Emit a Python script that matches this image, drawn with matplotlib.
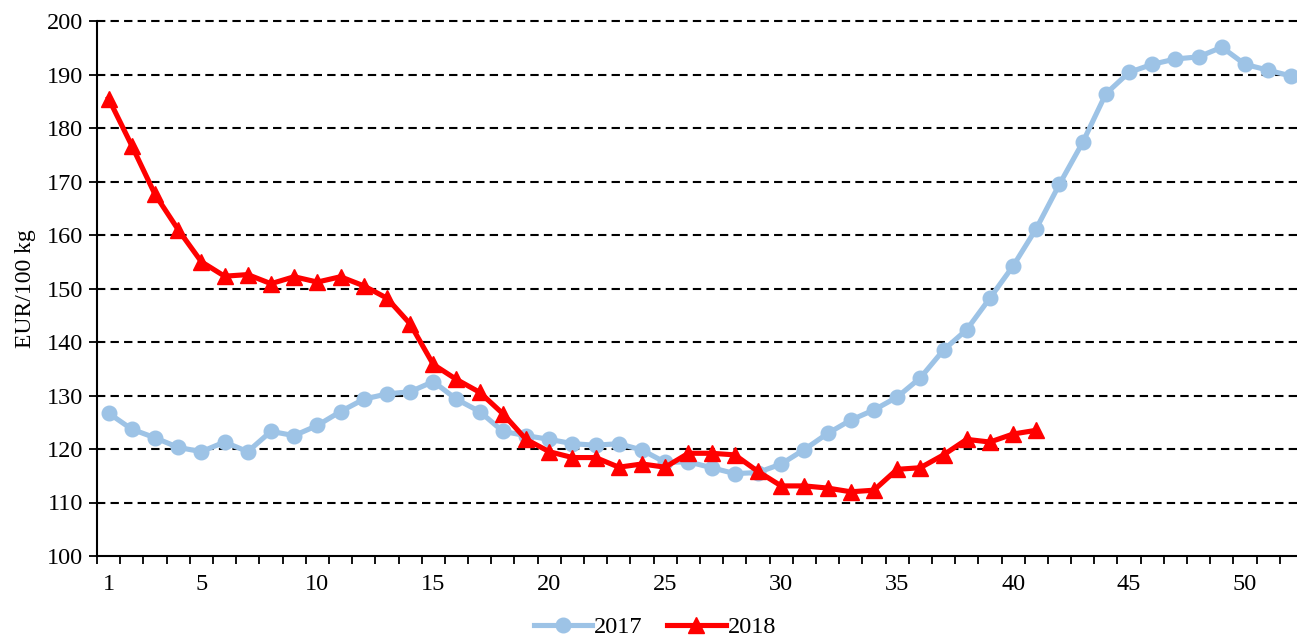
import matplotlib
matplotlib.use("Agg")
import matplotlib.pyplot as plt

plt.rcParams['font.family'] = ['Liberation Serif', 'DejaVu Serif']

weeks_2017 = list(range(1, 53))
prices_2017 = [126.7, 123.7, 122.1, 120.3, 119.5, 121.3, 119.5, 123.3, 122.5, 124.4,
               127.0, 129.3, 130.3, 130.7, 132.6, 129.3, 127.0, 123.3, 122.5, 121.8,
               121.0, 120.7, 121.0, 119.8, 117.5, 117.6, 116.5, 115.4, 115.6, 117.2,
               119.9, 122.9, 125.4, 127.3, 129.7, 133.3, 138.5, 142.3, 148.2, 154.2,
               161.2, 169.5, 177.3, 186.4, 190.4, 191.9, 192.9, 193.3, 195.1, 191.9,
               190.8, 189.7]

weeks_2018 = list(range(1, 42))
prices_2018 = [185.5, 176.7, 167.6, 161.0, 155.0, 152.3, 152.6, 150.9, 152.2, 151.2,
               152.2, 150.5, 148.2, 143.4, 135.8, 133.0, 130.6, 126.6, 121.8, 119.5,
               118.4, 118.4, 116.6, 117.2, 116.6, 119.2, 119.2, 118.9, 115.8, 113.1,
               113.1, 112.7, 112.0, 112.3, 116.2, 116.5, 118.9, 121.8, 121.3, 122.8,
               123.5]

x_labels = [1, 5, 10, 15, 20, 25, 30, 35, 40, 45, 50]
y_ticks = list(range(100, 201, 10))

fig = plt.figure(figsize=(12.97, 6.37), dpi=100)
W, H = 1297, 637
ax = fig.add_axes([97 / W, 1 - 556 / H, 1206 / W, (556 - 21) / H])

ax.plot(weeks_2017, prices_2017, color='#9DC3E6', linewidth=3.7, marker='o',
        markersize=10.5, label='2017', zorder=3)
ax.plot(weeks_2018, prices_2018, color='#FF0000', linewidth=3.7, marker='^',
        markersize=11, label='2018', zorder=4)

ax.set_xlim(0.5, 52.5)
ax.set_ylim(100, 200)
ax.set_yticks(y_ticks)
ax.set_xticks([w + 0.5 for w in range(0, 53)])
ax.set_xticklabels([])
ax.set_xticks(x_labels, minor=True)
ax.set_xticklabels([str(v) for v in x_labels], minor=True)
ax.tick_params(axis='x', which='minor', length=0, pad=13, labelsize=17.5)
ax.tick_params(axis='x', which='major', direction='out', length=6, width=1.3)
ax.tick_params(axis='y', direction='out', length=6, width=1.3, labelsize=17.5, pad=4)

# dashed horizontal grid
for v in y_ticks[1:]:
    ax.axhline(v, color='black', linewidth=1.5, linestyle=(0, (4, 2.5)),
               zorder=1, clip_on=False)

for s in ['top', 'right']:
    ax.spines[s].set_visible(False)
ax.spines['left'].set_linewidth(1.5)
ax.spines['bottom'].set_linewidth(1.5)

ax.set_ylabel('EUR/100 kg', fontsize=17, labelpad=8)

ax.legend(loc='center', bbox_to_anchor=(655 / W, 0.015), bbox_transform=fig.transFigure,
          ncol=2, frameon=False, fontsize=17.5, handlelength=2.4, columnspacing=1.0,
          handletextpad=0.1, borderaxespad=0, borderpad=0)

fig.savefig('out.png', dpi=100)
